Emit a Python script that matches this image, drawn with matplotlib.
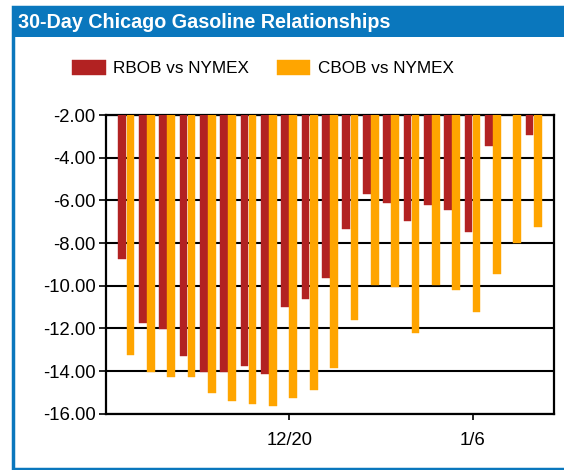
import numpy as np
import matplotlib
matplotlib.use("Agg")
import matplotlib.pyplot as plt
from matplotlib.patches import Rectangle

plt.rcParams['font.family'] = ['Liberation Sans', 'DejaVu Sans']

dates = ["12/10", "12/11", "12/12", "12/13", "12/16", "12/17", "12/18", "12/19",
         "12/20", "12/23", "12/24", "12/26", "12/27", "12/30", "12/31", "1/2",
         "1/3", "1/6", "1/7", "1/8", "1/9"]
rbob = [-8.74, -11.77, -12.03, -13.28, -14.03, -14.03, -13.75, -14.14,
        -11.02, -10.64, -9.63, -7.34, -5.72, -6.14, -6.95, -6.23,
        -6.47, -7.49, -3.47, np.nan, -2.94]
cbob = [-13.27, -14.03, -14.27, -14.27, -15.02, -15.41, -15.53, -15.64,
        -15.28, -14.89, -13.88, -11.61, -9.98, -10.05, -12.24, -9.98,
        -10.22, -11.25, -9.47, -7.98, -7.23]
tick_labels = ["12/20", "1/6"]
series_names = ["RBOB vs NYMEX", "CBOB vs NYMEX"]
yticks = [-2, -4, -6, -8, -10, -12, -14, -16]

BLUE = "#0A77BD"
RED = "#B22222"
ORANGE = "#FFA500"

W, H = 564, 470
fig = plt.figure(figsize=(W / 100, H / 100), dpi=100)


def fx(px):
    return px / W


def fy(py):
    return 1 - py / H


# Outer frame and title bar (figure pixel coords)
fig.patches.append(Rectangle((fx(12.5), fy(468.5)), fx(580) - fx(12.5), fy(7) - fy(468.5),
                             transform=fig.transFigure, facecolor="white",
                             edgecolor=BLUE, linewidth=2.5, zorder=0))
fig.patches.append(Rectangle((fx(12), fy(37)), fx(580) - fx(12), fy(7) - fy(37),
                             transform=fig.transFigure, facecolor=BLUE,
                             edgecolor="none", zorder=1))
fig.text(fx(18), fy(22), "30-Day Chicago Gasoline Relationships", color="white",
         fontsize=14.2, fontweight="bold", va="center", ha="left")

ax = fig.add_axes([fx(106), fy(413.7), fx(554) - fx(106), fy(115) - fy(413.7)])
ax.set_zorder(5)
x = np.arange(len(dates))
w = 0.38
ax.bar(x - 0.2, rbob, width=w, color=RED, edgecolor=RED, linewidth=0.3,
       label=series_names[0], zorder=3)
ax.bar(x + 0.2, cbob, width=w, color=ORANGE, edgecolor=ORANGE, linewidth=0.3,
       label=series_names[1], zorder=3)

ax.set_ylim(-16, -2)
ax.set_xlim(-1, 21)
ax.set_yticks(yticks)
ax.set_yticklabels([f"{v:.2f}" for v in yticks])
ax.yaxis.grid(True, color="black", linewidth=1.5, zorder=1)
ax.set_axisbelow(True)

tick_pos = [dates.index(t) for t in tick_labels]
ax.set_xticks(tick_pos)
ax.set_xticklabels(tick_labels)

for s in ax.spines.values():
    s.set_color("black")
    s.set_linewidth(1.6)
ax.tick_params(axis="both", colors="black", labelsize=13.3, width=1.2)
ax.tick_params(axis="x", pad=9, length=4)
ax.tick_params(axis="y", pad=2.5, length=5)

leg = fig.legend(loc="center", bbox_to_anchor=(fx(263), fy(68)), ncol=2,
                 frameon=False, fontsize=12.3, handlelength=1.95, handleheight=1.0,
                 columnspacing=1.6, handletextpad=0.45)
leg.set_zorder(6)

fig.savefig("out.png", dpi=100)
